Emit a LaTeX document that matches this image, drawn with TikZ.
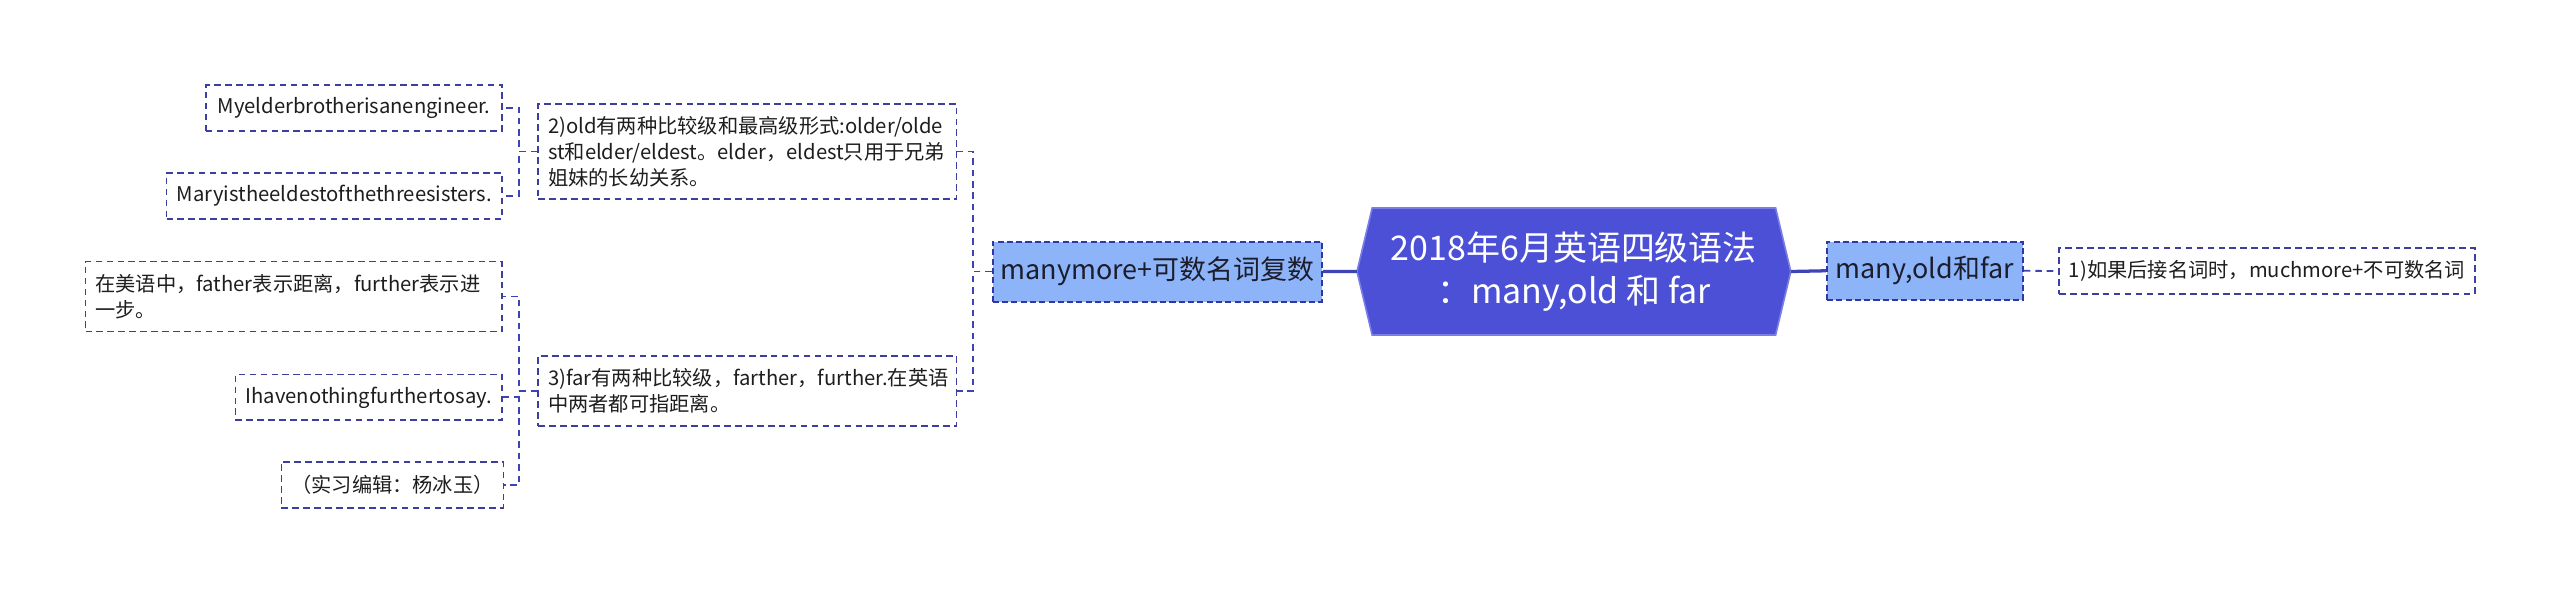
\documentclass[tikz,border=0pt]{standalone}
\usepackage{fontspec}
\setmainfont{Noto Sans CJK SC}
\usetikzlibrary{backgrounds}
\definecolor{rootfill}{HTML}{4B50D6}
\definecolor{rootline}{HTML}{7A7EE4}
\definecolor{midfill}{HTML}{8DB4F9}
\definecolor{midline}{HTML}{2F36A6}
\definecolor{midtext}{HTML}{1C1D2C}
\definecolor{leafline}{HTML}{3C3F9E}
\definecolor{leaftext}{HTML}{1E1E1E}
\definecolor{linkcol}{HTML}{3E44B8}
\begin{document}
\begin{tikzpicture}[x=1pt,y=-1pt,
  leaf/.style={draw=leafline,fill=white,line width=1.1pt,dash pattern=on 4pt off 2.7pt,
    inner xsep=6pt,inner ysep=0pt,minimum height=28pt,text=leaftext,
    font=\fontsize{12.4}{16}\selectfont},
  topic/.style={draw=midline,fill=midfill,line width=1.2pt,dash pattern=on 3.7pt off 2pt,
    inner sep=0pt,text=midtext,font=\fontsize{16.5}{20}\selectfont},
  link/.style={draw=linkcol,line width=1.1pt,dash pattern=on 4pt off 3pt},
  trunk/.style={draw=linkcol,line width=2pt}]
\useasboundingbox (0,0) rectangle (1568,363.2);

\node[inner sep=0pt,minimum width=265.3pt,minimum height=77.4pt,align=center,text=white,
  font=\fontsize{20.8}{26}\selectfont] (root) at (964,166.3) {2018年6月英语四级语法\\：many,old 和 far};
\begin{scope}[on background layer]
\filldraw[fill=rootfill,draw=rootline,line width=1pt] (root.west) -- ([xshift=9.3pt]root.north west)
  -- ([xshift=-9.3pt]root.north east) -- (root.east) -- ([xshift=-9.3pt]root.south east)
  -- ([xshift=9.3pt]root.south west) -- cycle;
\end{scope}

\node[topic,minimum width=201.6pt,minimum height=36.7pt] (mm) at (708.8,166.35) {manymore+可数名词复数};
\node[topic,minimum width=120pt,minimum height=35.7pt] (mo) at (1179,165.85) {many,old和far};
\node[leaf,minimum width=254pt] (much) at (1388.5,166) {1)如果后接名词时，muchmore+不可数名词};

\node[leaf,text width=244.1pt,minimum height=58.3pt,align=left] (old) at (457.75,92.85)
  {2)old有两种比较级和最高级形式:older/olde\\st和elder/eldest。elder，eldest只用于兄弟\\姐妹的长幼关系。};
\node[leaf,text width=244.1pt,minimum height=43pt,align=left] (far) at (457.75,239.5)
  {3)far有两种比较级，farther，further.在英语\\中两者都可指距离。};

\node[leaf,minimum width=181.5pt] (elder) at (216.85,66) {Myelderbrotherisanengineer.};
\node[leaf,minimum width=205.6pt] (eldest) at (204.8,119.9) {Maryistheeldestofthethreesisters.};
\node[leaf,text width=243pt,minimum height=42.9pt,align=left] (usa) at (179.9,181.65)
  {在美语中，father表示距离，further表示进\\一步。};
\node[leaf,minimum width=163.2pt] (say) at (225.8,243.4) {Ihavenothingfurthertosay.};
\node[leaf,minimum width=134pt] (editor) at (240.4,297) {（实习编辑：杨冰玉）};

\draw[trunk] (root.west) -- (mm.east);
\draw[trunk] (root.east) -- (mo.west);
\draw[link] (mo.east) -- (much.west);
\draw[link] (mm.west) -- ++(-11.5,0) |- (old.east);
\draw[link] (mm.west) -- ++(-11.5,0) |- (far.east);
\draw[link] (old.west) -- ++(-11.2,0) |- (elder.east);
\draw[link] (old.west) -- ++(-11.2,0) |- (eldest.east);
\draw[link] (far.west) -- ++(-11.2,0) |- (usa.east);
\draw[link] (far.west) -- ++(-11.2,0) |- (say.east);
\draw[link] (far.west) -- ++(-11.2,0) |- (editor.east);
\end{tikzpicture}
\end{document}
